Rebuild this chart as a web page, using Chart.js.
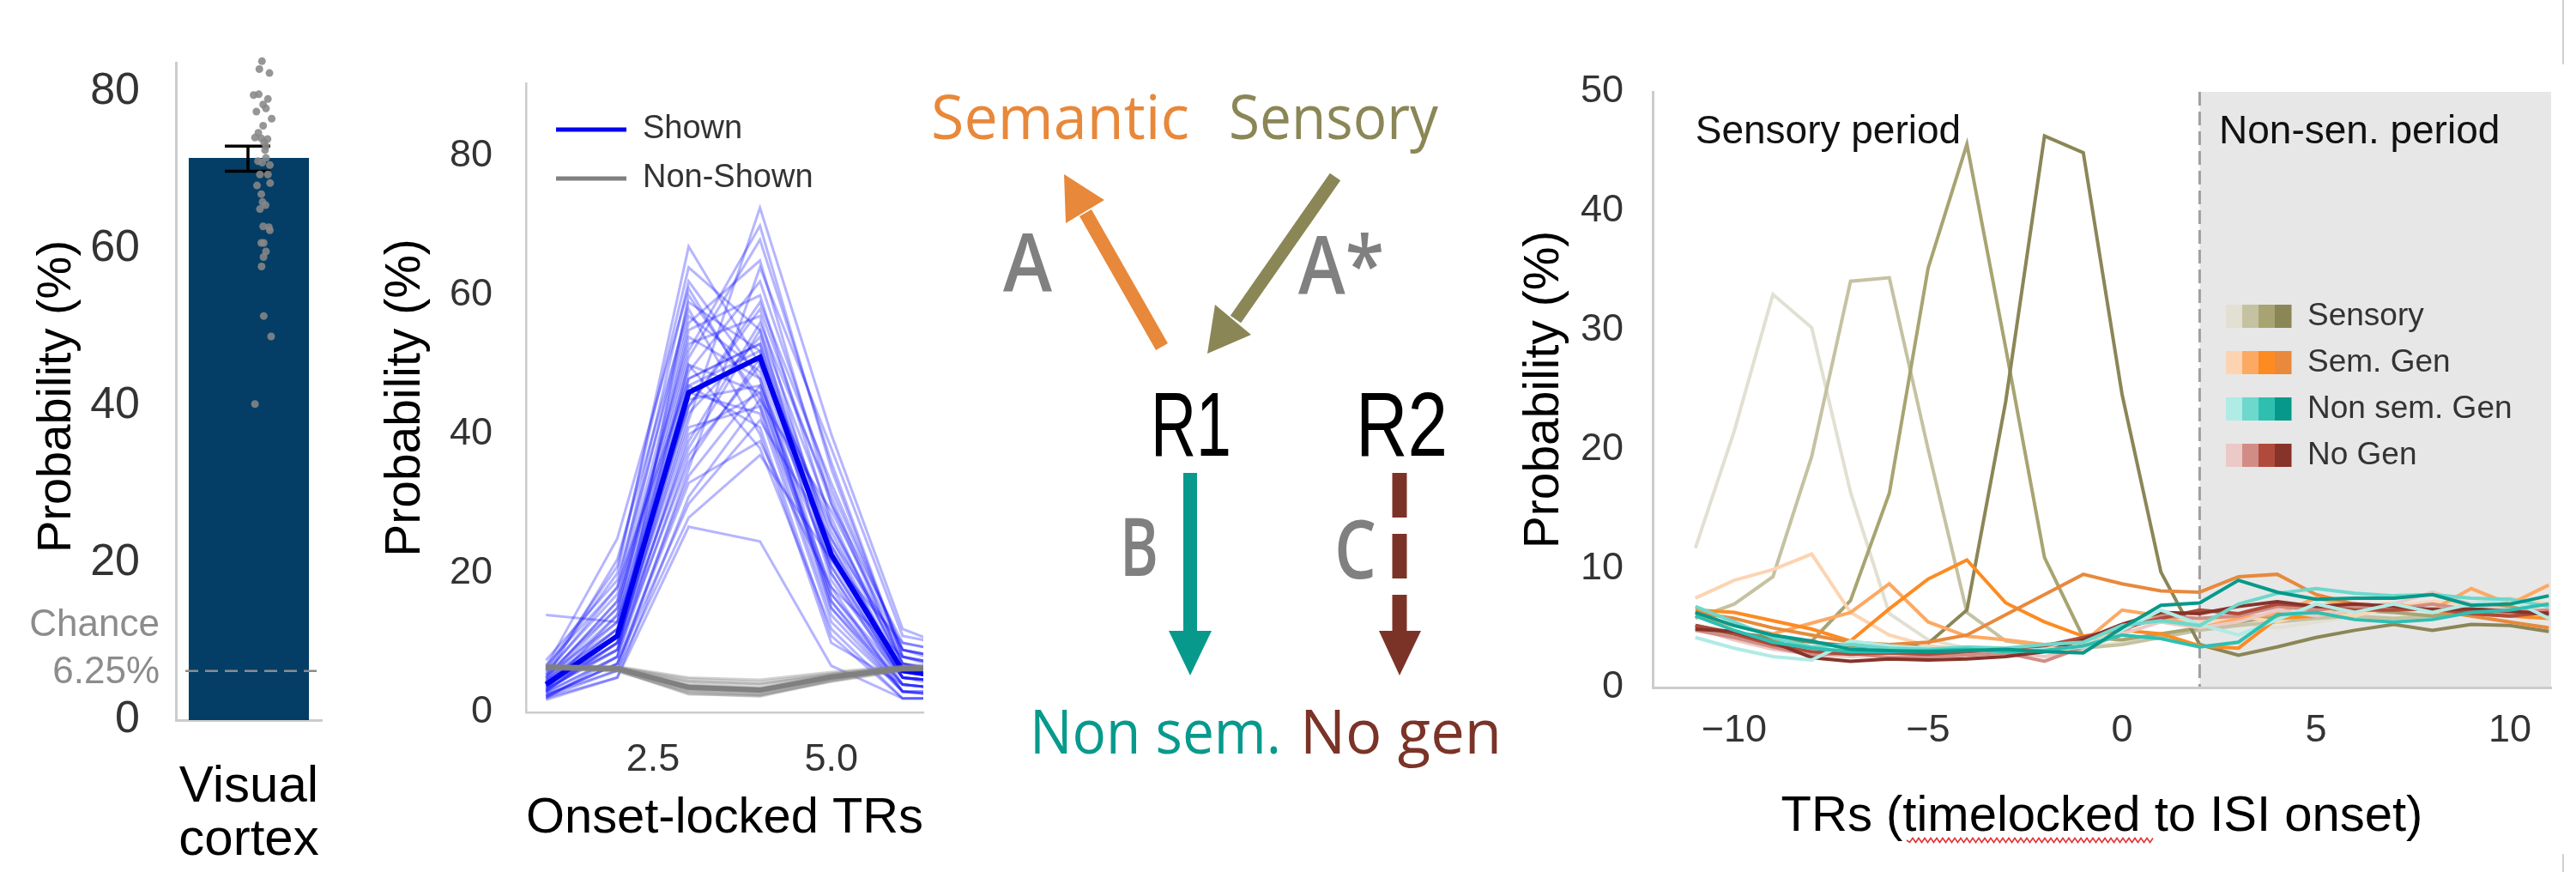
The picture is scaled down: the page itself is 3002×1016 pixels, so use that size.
<!DOCTYPE html>
<html><head><meta charset="utf-8">
<script src="https://cdn.jsdelivr.net/npm/chart.js@4.4.1/dist/chart.umd.min.js"></script>
<style>
html,body{margin:0;padding:0;background:#fff;}
body{width:3002px;height:1016px;position:relative;overflow:hidden;}
.pane{position:absolute;top:0;height:1016px;}
#p1{left:0;width:420px;}
#p2{left:420px;width:670px;}
#p3{left:1700px;width:1302px;}
#diag{position:absolute;left:0;top:0;pointer-events:none;}
</style></head><body>
<div class="pane" id="p1"><canvas id="c1"></canvas></div>
<div class="pane" id="p2"><canvas id="c2"></canvas></div>
<div class="pane" id="p3"><canvas id="c3"></canvas></div>
<svg id="diag" width="3002" height="1016" xmlns="http://www.w3.org/2000/svg"></svg>
<script>
// ---------------- DATA ----------------
// Panel 1 (bar + subjects)
const p1Categories = [["Visual", "cortex"]];
const p1Mean = [71.5];
const p1ErrLow = [69.8];
const p1ErrHigh = [73.0];
const p1Chance = 6.25;
const p1Subjects = [83.8, 82.8, 82.3, 79.5, 79.6, 79.0, 78.3, 77.8, 77.4, 76.5, 75.6, 74.7, 74.1, 74.0, 73.9, 73.5, 73.0, 72.5, 71.5, 71.1, 70.9, 70.6, 69.4, 69.4, 68.3, 68.0, 66.9, 65.9, 65.5, 65.0, 62.8, 62.7, 62.3, 60.7, 60.7, 59.6, 58.9, 57.7, 51.4, 48.8, 40.2];
const p1Jitter = [0.635, 0.608, 0.712, 0.549, 0.602, 0.696, 0.647, 0.676, 0.578, 0.735, 0.647, 0.598, 0.563, 0.628, 0.692, 0.657, 0.676, 0.666, 0.676, 0.594, 0.637, 0.716, 0.614, 0.696, 0.719, 0.584, 0.628, 0.641, 0.672, 0.614, 0.647, 0.706, 0.716, 0.628, 0.653, 0.676, 0.651, 0.631, 0.653, 0.729, 0.563];
const p1YTicks = [0, 20, 40, 60, 80];

// Panel 2 (onset-locked TRs)
const p2X = [1, 2, 3, 4, 5, 6, 7];
const p2XTicks = [2.5, 5.0];
const p2ShownMean = [4.0, 11.0, 46.0, 51.1, 22.7, 6.0, 4.5];
const p2NonShownMean = [6.5, 6.3, 3.6, 3.2, 5.1, 6.3, 6.4];
const p2ShownSubjects = [
  [3.5, 12, 47, 52, 22, 5, 4], [2.0, 8, 60, 45, 18, 3, 2], [4.5, 15, 52, 70, 35, 8, 6], [3.0, 10, 38, 55, 28, 6, 5],
  [5.5, 18, 62, 48, 15, 4, 3], [2.5, 7, 30, 42, 25, 9, 7], [14.0, 13, 44, 58, 30, 10, 8], [3.8, 11, 50, 38, 12, 2, 2],
  [6.0, 20, 67, 50, 20, 5, 4], [2.2, 6, 35, 64, 38, 11, 9], [4.0, 9, 45, 47, 16, 3, 3], [3.2, 14, 55, 60, 27, 7, 5],
  [5.0, 22, 58, 40, 10, 4, 3], [1.8, 5, 26.7, 24.6, 6.7, 2, 2], [4.2, 12, 48, 53, 24, 6, 4], [3.6, 10, 42, 72.6, 40, 12, 8],
  [2.8, 8, 40, 46, 21, 5, 4], [6.5, 25, 61, 44, 14, 3, 2], [3.3, 9, 36, 51, 26, 7, 6], [4.8, 16, 53, 57, 23, 5, 4],
  [2.4, 7, 33, 39, 18, 8, 6], [5.2, 13, 49, 62, 32, 9, 7], [3.0, 11, 46, 43, 13, 3, 2], [7.5, 19, 57, 49, 17, 4, 3],
  [2.6, 6, 28, 37, 22, 10, 8], [4.4, 14, 51, 68, 36, 8, 5], [3.9, 10, 43, 54, 25, 6, 4], [5.8, 17, 59, 52, 19, 5, 3],
  [2.1, 5, 31, 45, 29, 9, 7], [4.6, 12, 47, 41, 11, 2, 2], [3.4, 9, 39, 56, 31, 7, 5], [6.2, 21, 64, 55, 20, 4, 3],
  [2.9, 8, 37, 50, 27, 8, 6], [4.1, 13, 50, 46, 15, 3, 3], [3.7, 11, 44, 59, 33, 9, 6], [5.4, 15, 54, 48, 16, 4, 3],
  [2.3, 7, 34, 47, 24, 6, 5], [4.9, 16, 56, 65, 30, 7, 4], [3.1, 10, 41, 44, 17, 5, 4], [6.8, 18, 48, 53, 21, 5, 4]
];
const p2NonShownSubjects = [
  [6.5, 6.2, 3.2, 2.8, 4.9, 6.3, 6.5], [6.7, 6.4, 4.1, 3.6, 5.3, 6.5, 6.4], [6.3, 6.0, 2.6, 2.4, 4.6, 6.1, 6.2],
  [6.6, 6.5, 4.8, 4.4, 5.6, 6.6, 6.6], [6.4, 6.1, 3.5, 3.0, 5.0, 6.2, 6.3], [6.8, 6.6, 5.0, 4.7, 5.8, 6.7, 6.7],
  [6.2, 5.9, 2.9, 2.5, 4.4, 6.0, 6.1], [6.5, 6.3, 3.8, 3.3, 5.2, 6.4, 6.5], [6.6, 6.2, 3.3, 2.9, 4.8, 6.2, 6.4],
  [6.4, 6.4, 4.4, 4.0, 5.4, 6.5, 6.3], [6.3, 6.1, 3.0, 2.6, 4.7, 6.3, 6.2], [6.7, 6.3, 3.7, 3.4, 5.1, 6.4, 6.6],
  [6.5, 6.0, 2.7, 2.3, 4.5, 6.1, 6.4], [6.6, 6.5, 4.5, 4.1, 5.5, 6.6, 6.5], [6.4, 6.2, 3.4, 3.1, 5.0, 6.3, 6.3],
  [6.5, 6.4, 3.9, 3.5, 5.2, 6.4, 6.5]
];

// Panel 3 (TRs timelocked to ISI onset)
const p3X = [-11, -10, -9, -8, -7, -6, -5, -4, -3, -2, -1, 0, 1, 2, 3, 4, 5, 6, 7, 8, 9, 10, 11];
const p3XTicks = [-10, -5, 0, 5, 10];
const p3Onset = 2;
const p3Sensory = [
  [11.7, 21.5, 33.0, 30.2, 16.4, 6.2, 4.0, 3.3, 3.2, 3.0, 3.3, 3.8, 4.5, 5.0, 5.5, 5.0, 5.5, 6.0, 5.5, 6.0, 6.2, 6.0, 6.3],
  [5.8, 7.0, 9.3, 19.4, 34.1, 34.4, 20.0, 6.3, 3.9, 3.5, 3.3, 3.6, 4.2, 4.8, 5.2, 5.5, 5.8, 6.0, 5.8, 6.0, 6.2, 6.0, 6.5],
  [5.0, 4.5, 4.0, 3.9, 7.3, 16.3, 35.2, 45.6, 28.5, 10.9, 4.2, 4.0, 4.5, 5.0, 5.5, 6.0, 6.2, 6.5, 6.3, 6.0, 6.5, 6.8, 6.0],
  [5.2, 4.6, 4.2, 3.8, 3.5, 3.4, 3.7, 6.5, 24.0, 46.3, 44.9, 24.6, 9.7, 3.6, 2.7, 3.4, 4.2, 4.8, 5.3, 4.8, 5.3, 5.2, 4.7]
];
const p3SemGen = [
  [7.5, 9.0, 9.9, 11.2, 6.3, 4.4, 3.5, 3.2, 3.0, 3.3, 3.8, 5.0, 5.8, 5.5, 6.0, 5.5, 6.5, 6.0, 6.8, 7.2, 7.0, 7.5, 7.0],
  [6.0, 5.2, 4.5, 5.4, 6.3, 8.7, 5.5, 4.3, 4.0, 3.6, 3.8, 6.5, 6.0, 5.0, 5.8, 6.2, 7.5, 6.8, 7.0, 6.5, 8.3, 7.0, 8.6],
  [6.5, 6.3, 5.6, 4.9, 3.9, 6.6, 9.1, 10.7, 7.1, 5.5, 4.3, 4.8, 4.5, 3.5, 3.3, 5.8, 6.0, 6.5, 6.8, 6.5, 6.2, 6.0, 5.8],
  [6.3, 5.8, 5.0, 4.4, 3.8, 3.6, 3.8, 4.4, 6.1, 7.8, 9.5, 8.7, 8.1, 8.0, 9.3, 9.5, 7.8, 7.0, 6.8, 6.5, 6.0, 5.5, 5.0]
];
const p3NonSemGen = [
  [4.2, 3.3, 2.6, 2.3, 3.9, 3.5, 3.3, 3.2, 3.0, 3.2, 3.4, 4.8, 6.5, 5.3, 4.4, 5.7, 7.0, 6.3, 7.0, 6.3, 7.0, 7.4, 5.8],
  [6.8, 5.5, 4.2, 3.4, 3.6, 3.3, 3.2, 3.4, 3.3, 3.6, 3.8, 5.2, 5.6, 5.2, 7.0, 7.9, 8.3, 7.9, 7.7, 7.8, 7.5, 7.4, 6.8],
  [6.0, 4.8, 3.8, 3.3, 3.0, 3.0, 3.1, 3.2, 3.0, 3.1, 3.5, 4.4, 4.1, 3.4, 3.8, 6.1, 6.3, 5.7, 5.5, 5.7, 6.3, 6.5, 7.0],
  [6.3, 5.2, 4.4, 3.9, 3.2, 3.1, 3.0, 3.1, 3.2, 3.0, 2.9, 5.0, 6.9, 7.1, 9.0, 8.0, 7.4, 7.5, 7.5, 7.8, 6.9, 7.0, 7.7]
];
const p3NoGen = [
  [5.0, 4.0, 3.2, 2.8, 2.6, 2.7, 2.6, 2.8, 3.0, 2.6, 3.2, 4.5, 5.5, 5.0, 5.5, 6.5, 6.0, 6.5, 7.0, 8.0, 7.0, 6.5, 6.5],
  [4.8, 4.2, 3.4, 2.7, 2.9, 2.5, 2.6, 2.7, 2.9, 2.2, 3.4, 4.8, 6.0, 5.8, 6.0, 6.8, 6.5, 6.8, 6.6, 7.0, 6.5, 6.3, 6.5],
  [5.2, 4.5, 3.6, 3.0, 2.8, 2.9, 2.8, 3.0, 3.2, 3.5, 4.2, 5.0, 5.8, 6.5, 6.2, 7.0, 6.8, 6.5, 6.5, 6.6, 6.2, 6.0, 6.3],
  [4.9, 4.7, 3.8, 2.5, 2.2, 2.4, 2.3, 2.4, 2.6, 3.0, 4.0, 5.3, 6.3, 6.2, 6.8, 7.2, 6.8, 7.0, 6.8, 6.5, 6.6, 6.4, 6.2]
];
const p3GroupNames = ["Sensory", "Sem. Gen", "Non sem. Gen", "No Gen"];
const p3SensoryColors = ["#e2e0d2", "#c5c2a2", "#a8a472", "#8b8656"];
const p3SemColors = ["#fdd4b2", "#fca964", "#fd8b22", "#e8893c"];
const p3NonSemColors = ["#b0ebe5", "#6dd8cc", "#2ebfb1", "#06998a"];
const p3NoGenColors = ["#ebc9c6", "#d18d85", "#b04b3b", "#87332a"];
const p3PeriodLabels = ["Sensory period", "Non-sen. period"];
const p3PeriodLabelX = [-11, 2.5];

// ---------------- COMMON ----------------
const FONT = '"Liberation Sans", Arial, Helvetica, sans-serif';
Chart.defaults.font.family = FONT;
Chart.defaults.color = '#333';
const noGrid = {display: false, drawTicks: false};
function noSidePad(s) { s.paddingLeft = 0; s.paddingRight = 0; }

// ---------------- PANEL 1 ----------------
const p1Plugin = {
  id: 'p1extras',
  afterDatasetDraw(chart, args) {
    if (args.index !== 1) return;
    const ctx = chart.ctx, xs = chart.scales.x, ys = chart.scales.y;
    p1Mean.forEach((m, i) => {
      const cx = xs.getPixelForValue(i) - 1;
      const yl = ys.getPixelForValue(p1ErrLow[i]), yh = ys.getPixelForValue(p1ErrHigh[i]);
      ctx.save();
      ctx.strokeStyle = '#000'; ctx.lineWidth = 3.5;
      ctx.beginPath();
      ctx.moveTo(cx, yl); ctx.lineTo(cx, yh);
      ctx.moveTo(cx - 27, yl); ctx.lineTo(cx + 26, yl);
      ctx.moveTo(cx - 27, yh); ctx.lineTo(cx + 26, yh);
      ctx.stroke();
      ctx.restore();
    });
  },
  afterDatasetsDraw(chart) {
    const ctx = chart.ctx, ys = chart.scales.y, a = chart.chartArea;
    const yc = ys.getPixelForValue(p1Chance);
    ctx.save();
    ctx.strokeStyle = '#8c8c8c'; ctx.lineWidth = 2.5; ctx.setLineDash([15, 8]);
    ctx.beginPath(); ctx.moveTo(a.left + 11, yc); ctx.lineTo(a.right - 3, yc); ctx.stroke();
    ctx.setLineDash([]);
    ctx.fillStyle = '#8c8c8c'; ctx.font = '44px ' + FONT; ctx.textAlign = 'right'; ctx.textBaseline = 'middle';
    ctx.fillText('Chance', 186, yc - 53);
    ctx.fillText(p1Chance + '%', 186, yc + 2);
    // y axis title
    ctx.fillStyle = '#000'; ctx.font = '56px ' + FONT; ctx.textAlign = 'center';
    ctx.translate(67, 462); ctx.rotate(-Math.PI / 2);
    ctx.fillText('Probability (%)', 0, 0);
    ctx.restore();
  }
};
new Chart(document.getElementById('c1'), {
  type: 'bar',
  data: {
    labels: p1Categories,
    datasets: [
      {type: 'scatter', label: 'Subjects', data: p1Subjects.map((v, i) => ({x: p1Jitter[i], y: v})),
       xAxisID: 'xj', yAxisID: 'y', backgroundColor: 'rgba(135,135,135,0.88)', borderWidth: 0, pointRadius: 4.5, clip: false, order: 0},
      {type: 'bar', label: 'Visual cortex', data: p1Mean, backgroundColor: '#043e66', borderWidth: 0,
       grouped: false, barPercentage: 0.824, categoryPercentage: 1.0, order: 1, xAxisID: 'x', yAxisID: 'y'}
    ]
  },
  options: {
    responsive: true, maintainAspectRatio: false, animation: false,
    layout: {padding: {top: 13, right: 45, left: 0, bottom: 0}},
    plugins: {legend: {display: false}, tooltip: {enabled: false}},
    scales: {
      x: {type: 'category', offset: true, grid: noGrid, border: {display: true, color: '#cccccc', width: 3},
          ticks: {font: {size: 60, lineHeight: 1.03}, color: '#000', padding: 48, maxRotation: 0, autoSkip: false},
          afterFit(s) { s.height = 1016 - 839; noSidePad(s); }},
      xj: {type: 'linear', display: false, min: 0, max: 1, afterFit: noSidePad},
      y: {type: 'linear', min: 0, max: 83.6, grid: noGrid, border: {display: true, color: '#cccccc', width: 3},
          ticks: {stepSize: 20, includeBounds: false, font: {size: 52}, color: '#333', padding: 42,
                  callback: (v) => p1YTicks.includes(v) ? String(v) : ''},
          afterFit(s) { s.width = 205; }}
    }
  },
  plugins: [p1Plugin]
});

// ---------------- PANEL 2 ----------------
const p2Datasets = [];
p2Datasets.push({label: 'Non-Shown', data: p2NonShownMean.map((v, i) => ({x: p2X[i], y: v})), borderColor: '#808080', backgroundColor: '#808080', borderWidth: 6, order: 0});
p2NonShownSubjects.forEach((s, k) => p2Datasets.push({label: 'ns' + k, data: s.map((v, i) => ({x: p2X[i], y: v})), borderColor: 'rgba(128,128,128,0.35)', borderWidth: 3, order: 1}));
p2Datasets.push({label: 'Shown', data: p2ShownMean.map((v, i) => ({x: p2X[i], y: v})), borderColor: '#0000ee', backgroundColor: '#0000ee', borderWidth: 6, order: 2});
p2ShownSubjects.forEach((s, k) => p2Datasets.push({label: 's' + k, data: s.map((v, i) => ({x: p2X[i], y: v})), borderColor: 'rgba(10,10,255,0.3)', borderWidth: 3, order: 3}));
p2Datasets.forEach(d => { d.pointRadius = 0; d.tension = 0; d.fill = false; });

const p2Plugin = {
  id: 'p2legendpos',
  afterLayout(chart) {
    const l = chart.legend;
    if (!l) return;
    const pad = l.options.labels.padding;
    const w = l.right - l.left;
    l.left = 228 - pad; l.right = l.left + w;
    l.top = 151 - 19 - pad;
  }
};
new Chart(document.getElementById('c2'), {
  type: 'line',
  data: {datasets: p2Datasets},
  options: {
    responsive: true, maintainAspectRatio: false, animation: false,
    layout: {padding: {top: 97, right: 14, left: 0, bottom: 0}},
    plugins: {
      tooltip: {enabled: false},
      legend: {
        position: 'chartArea', align: 'start',
        labels: {
          font: {size: 38}, color: '#333', boxWidth: 82, boxHeight: 5, padding: 19,
          filter: (item) => item.text === 'Shown' || item.text === 'Non-Shown',
          sort: (a, b) => (a.text === 'Shown' ? -1 : 1) - (b.text === 'Shown' ? -1 : 1),
          generateLabels: (chart) => Chart.defaults.plugins.legend.labels.generateLabels(chart).map(it => Object.assign(it, {lineWidth: 0, fillStyle: it.strokeStyle}))
        }
      }
    },
    scales: {
      x: {type: 'linear', min: 0.72, max: 6.29, grid: noGrid, border: {display: true, color: '#cccccc', width: 2.5},
          ticks: {stepSize: 2.5, includeBounds: false, font: {size: 45}, color: '#333', padding: 29,
                  callback: (v) => p2XTicks.includes(v) ? v.toFixed(1) : ''},
          title: {display: true, text: 'Onset-locked TRs', color: '#000', font: {size: 58}, padding: {top: 0, bottom: 27}},
          afterFit(s) { s.height = 1016 - 830; noSidePad(s); }},
      y: {type: 'linear', min: 0, max: 90.5, grid: noGrid, border: {display: true, color: '#cccccc', width: 2.5},
          ticks: {stepSize: 20, includeBounds: false, font: {size: 45}, color: '#333', padding: 39},
          title: {display: true, text: 'Probability (%)', color: '#000', font: {size: 57}, padding: {top: 19, bottom: 0}},
          afterFit(s) { s.width = 193; }}
    }
  },
  plugins: [p2Plugin]
});

// ---------------- PANEL 3 ----------------
const p3Groups = [
  {series: p3NonSemGen, colors: p3NonSemColors},
  {series: p3NoGen, colors: p3NoGenColors},
  {series: p3SemGen, colors: p3SemColors},
  {series: p3Sensory, colors: p3SensoryColors}
];
const p3Legend = [
  {name: p3GroupNames[0], colors: p3SensoryColors},
  {name: p3GroupNames[1], colors: p3SemColors},
  {name: p3GroupNames[2], colors: p3NonSemColors},
  {name: p3GroupNames[3], colors: p3NoGenColors}
];
const p3Datasets = [];
p3Groups.forEach(g => {
  for (let k = g.series.length - 1; k >= 0; k--) {
    p3Datasets.push({label: 'line', data: g.series[k].map((v, i) => ({x: p3X[i], y: v})),
      borderColor: g.colors[k], borderWidth: 4, pointRadius: 0, tension: 0, fill: false});
  }
});
const p3Plugin = {
  id: 'p3extras',
  beforeDraw(chart) {
    const ctx = chart.ctx, xs = chart.scales.x, ys = chart.scales.y, a = chart.chartArea;
    const x0 = xs.getPixelForValue(p3Onset);
    const yTop = ys.getPixelForValue(ys.max), yBot = ys.getPixelForValue(0);
    ctx.save();
    ctx.fillStyle = '#e7e7e7';
    ctx.fillRect(x0, yTop, a.right - x0, yBot - yTop);
    ctx.strokeStyle = '#a0a0a0'; ctx.lineWidth = 3; ctx.setLineDash([16, 7]);
    ctx.beginPath(); ctx.moveTo(x0, yTop); ctx.lineTo(x0, yBot); ctx.stroke();
    ctx.restore();
  },
  afterDraw(chart) {
    const ctx = chart.ctx, xs = chart.scales.x;
    ctx.save();
    ctx.fillStyle = '#111'; ctx.font = '46px ' + FONT; ctx.textAlign = 'left'; ctx.textBaseline = 'alphabetic';
    p3PeriodLabels.forEach((t, i) => ctx.fillText(t, xs.getPixelForValue(p3PeriodLabelX[i]), 167));
    // colour-swatch legend
    ctx.font = '37px ' + FONT; ctx.textBaseline = 'middle';
    p3Legend.forEach((row, r) => {
      const top = 355 + r * 54;
      row.colors.forEach((c, j) => { ctx.fillStyle = c; ctx.fillRect(894 + j * 19, top, 19.5, 27); });
      ctx.fillStyle = '#333';
      ctx.fillText(row.name, 989, top + 14);
    });
    ctx.restore();
  }
};
new Chart(document.getElementById('c3'), {
  type: 'line',
  data: {datasets: p3Datasets},
  options: {
    responsive: true, maintainAspectRatio: false, animation: false,
    layout: {padding: {top: 107, right: 29, left: 0, bottom: 0}},
    plugins: {legend: {display: false}, tooltip: {enabled: false}},
    scales: {
      x: {type: 'linear', min: -12.1, max: 11.06, grid: noGrid, border: {display: true, color: '#cccccc', width: 3},
          ticks: {stepSize: 5, includeBounds: false, font: {size: 45}, color: '#333', padding: 24,
                  callback: (v) => p3XTicks.includes(v) ? (v < 0 ? '\u2212' + Math.abs(v) : String(v)) : ''},
          title: {display: true, text: 'TRs (timelocked to ISI onset)', color: '#000', font: {size: 58}, padding: {top: 0, bottom: 29}},
          afterFit(s) { s.height = 1016 - 801; noSidePad(s); }},
      y: {type: 'linear', min: 0, max: 50, grid: noGrid, border: {display: true, color: '#cccccc', width: 3},
          ticks: {stepSize: 10, font: {size: 45}, color: '#333', padding: 34},
          title: {display: true, text: 'Probability (%)', color: '#000', font: {size: 57}, padding: {top: 66, bottom: 0}},
          afterFit(s) { s.width = 226; }}
    }
  },
  plugins: [p3Plugin]
});

// ---------------- MIDDLE DIAGRAM (SVG) ----------------
const svg = document.getElementById('diag');
const NS = 'http://www.w3.org/2000/svg';
function el(tag, attrs, text) {
  const e = document.createElementNS(NS, tag);
  for (const k in attrs) e.setAttribute(k, attrs[k]);
  if (text !== undefined) e.textContent = text;
  svg.appendChild(e);
  return e;
}
const ORANGE = '#e8883a', OLIVE = '#8b8656', TEAL = '#079a8c', BROWN = '#7b3328', GRAY = '#808080';
const DF = '"Open Sans", "Liberation Sans", sans-serif';
// arrows
el('line', {x1: 1354, y1: 404, x2: 1265, y2: 248, stroke: ORANGE, 'stroke-width': 16});
el('polygon', {points: '1240,203 1242,260 1287,233', fill: ORANGE});
el('line', {x1: 1556, y1: 206, x2: 1440, y2: 372, stroke: OLIVE, 'stroke-width': 15});
el('polygon', {points: '1407,412 1416,355 1458,390', fill: OLIVE});
el('line', {x1: 1387, y1: 551, x2: 1387, y2: 740, stroke: TEAL, 'stroke-width': 16});
el('polygon', {points: '1362,735 1412,735 1387,787', fill: TEAL});
el('line', {x1: 1631, y1: 551, x2: 1631, y2: 736, stroke: BROWN, 'stroke-width': 17, 'stroke-dasharray': '52 19'});
el('polygon', {points: '1607,735 1656,735 1631,787', fill: BROWN});
// labels
function txt(x, y, s, size, color, len, family, weight) {
  el('text', {x: x, y: y, 'font-size': size, fill: color, 'font-family': family || DF, 'font-weight': weight || 400,
              textLength: len, lengthAdjust: 'spacingAndGlyphs'}, s);
}
txt(1085, 162, 'Semantic', 72, ORANGE, 301);
txt(1432, 162, 'Sensory', 72, OLIVE, 244);
txt(1169, 340, 'A', 94, GRAY, 57, DF, 600);
txt(1513, 343, 'A*', 94, GRAY, 100, DF, 600);
txt(1341, 531, 'R1', 106, '#000', 94, FONT, 400);
txt(1580, 531, 'R2', 106, '#000', 107, FONT, 400);
txt(1305, 671, 'B', 94, GRAY, 45, DF, 600);
txt(1555, 674, 'C', 94, GRAY, 49, DF, 600);
txt(1200, 878, 'Non sem.', 72, TEAL, 293);
txt(1515, 878, 'No gen', 72, BROWN, 235);
// spell-check squiggle under "timelocked" and frame edge lines
let d = 'M2222 979';
for (let x = 2222, k = 0; x < 2509; x += 3.5, k++) d += ' L' + (x + 3.5) + ' ' + (979 + (k % 2 ? -2.5 : 2.5));
el('path', {d: d, stroke: '#e03535', 'stroke-width': 1.6, fill: 'none'});
el('line', {x1: 2987, y1: 0, x2: 2987, y2: 75, stroke: '#d0d0d0', 'stroke-width': 2});
el('line', {x1: 2987, y1: 995, x2: 2987, y2: 1016, stroke: '#d0d0d0', 'stroke-width': 2});
</script>
</body></html>
